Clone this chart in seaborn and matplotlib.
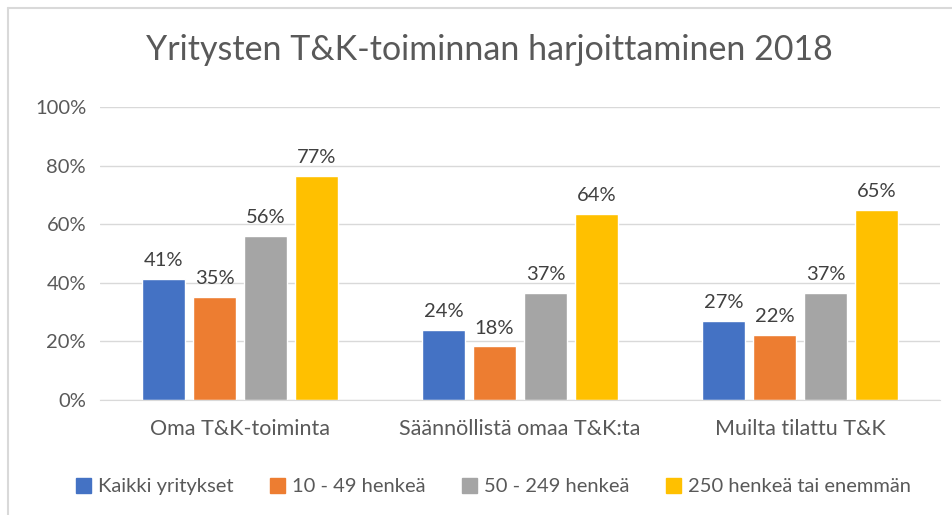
import pandas as pd
import matplotlib.pyplot as plt
import seaborn as sns
from matplotlib.lines import Line2D

# ---------- data ----------
categories = ["Oma T&K-toiminta", "Säännöllistä omaa T&K:ta", "Muilta tilattu T&K"]
groups = ["Kaikki yritykset", "10 - 49 henkeä", "50 - 249 henkeä", "250 henkeä tai enemmän"]
kaikki = [41.3, 24.0, 27.0]
pienet = [35.2, 18.3, 22.2]
keski = [56.0, 36.6, 36.6]
suuret = [76.6, 63.6, 65.0]
yticks = [0, 20, 40, 60, 80, 100]
title = "Yritysten T&K-toiminnan harjoittaminen 2018"

colors = ["#4472C4", "#ED7D31", "#A5A5A5", "#FFC000"]

rows = []
for g, vals in zip(groups, [kaikki, pienet, keski, suuret]):
    for c, v in zip(categories, vals):
        rows.append({"kategoria": c, "ryhma": g, "arvo": v})
df = pd.DataFrame(rows)

sns.set_style("white")
plt.rcParams['font.family'] = ['Lato', 'DejaVu Sans']

fig = plt.figure(figsize=(9.53, 5.15), dpi=100)
ax = fig.add_axes([100 / 953, 115 / 515, 840 / 953, 293 / 515])

sns.barplot(data=df, x="kategoria", y="arvo", hue="ryhma", palette=colors,
            width=0.73, gap=0.16, ax=ax, legend=False, saturation=1)

for cont in ax.containers:
    ax.bar_label(cont, labels=[f"{v:.0f}%" for v in cont.datavalues],
                 padding=7, fontsize=14.5, color="#404040")

ax.set_ylim(0, 100)
ax.set_xlim(-0.5, 2.5)
ax.set_yticks(yticks)
ax.set_yticklabels([f"{t}%" for t in yticks])
ax.yaxis.grid(True, color="#d9d9d9", linewidth=1)
ax.set_axisbelow(True)
for s in ["left", "right", "top"]:
    ax.spines[s].set_visible(False)
ax.spines["bottom"].set_color("#d9d9d9")
ax.tick_params(axis="y", length=0, labelsize=14.5, colors="#595959", pad=10)
ax.tick_params(axis="x", length=0, labelsize=15.5, colors="#595959", pad=14)
ax.set_xlabel("")
ax.set_ylabel("")

fig.text(0.513, 0.903, title, ha="center", va="center", fontsize=24.5,
         color="#595959")

handles = [plt.Rectangle((0, 0), 1, 1, color=c) for c in colors]
fig.legend(handles, groups, loc="center", bbox_to_anchor=(0.518, 0.055), ncol=4,
           frameon=False, fontsize=14.5, labelcolor="#595959",
           handlelength=0.75, handleheight=0.75, handletextpad=0.35, columnspacing=1.8)

# chart frame
fig.add_artist(Line2D([8 / 953, 1], [1 - 8 / 515, 1 - 8 / 515], color="#d9d9d9", lw=1.5))
fig.add_artist(Line2D([8 / 953, 8 / 953], [0, 1 - 8 / 515], color="#d9d9d9", lw=1.5))

fig.savefig("out.png", dpi=100)
